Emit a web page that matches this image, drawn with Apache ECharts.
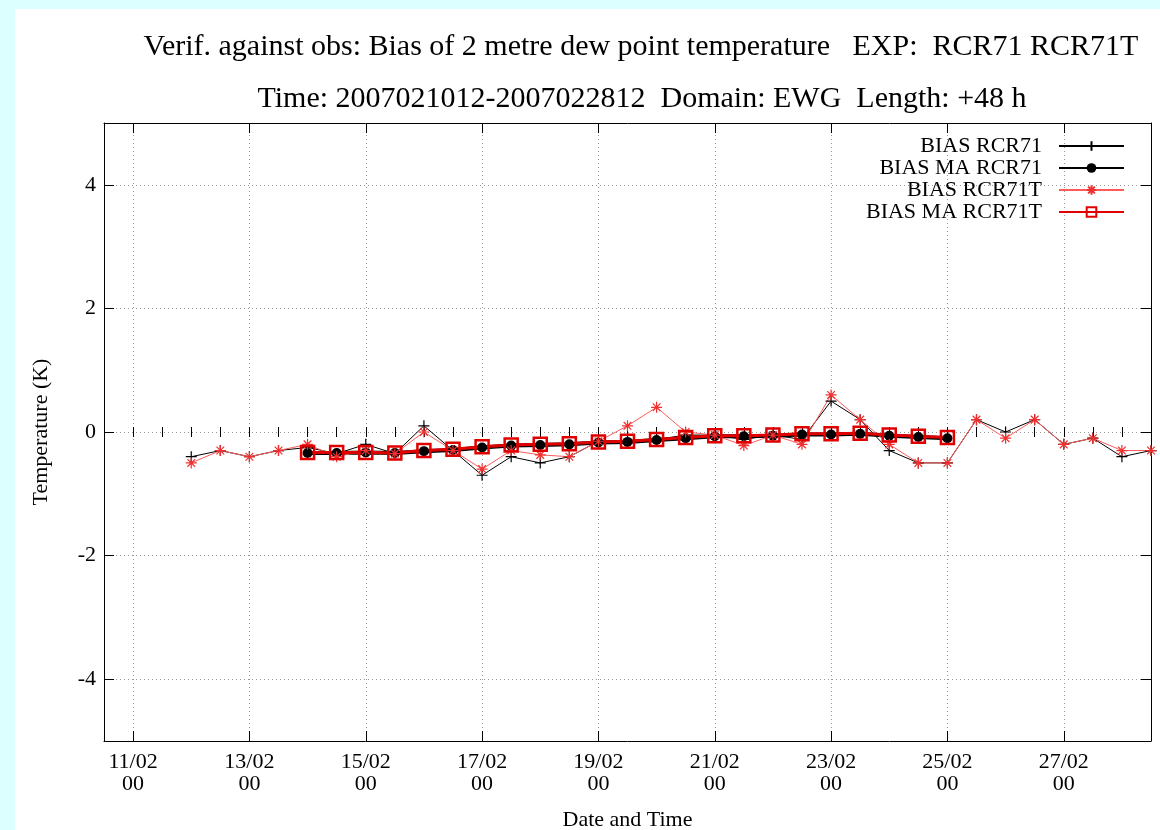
<!DOCTYPE html>
<html><head><meta charset="utf-8">
<script src="https://cdn.jsdelivr.net/npm/echarts@6/dist/echarts.min.js"></script>
<style>
html,body{margin:0;padding:0;background:#dcffff;width:1160px;height:830px;overflow:hidden}
#main{position:absolute;left:15px;top:9px;width:1145px;height:821px;background:#fff}
</style></head><body><div id="main"></div>
<script>
// ---- data ----
const titleLine1 = 'Verif. against obs: Bias of 2 metre dew point temperature   EXP:  RCR71 RCR71T';
const titleLine2 = 'Time: 2007021012-2007022812  Domain: EWG  Length: +48 h';
const axisStart = '2007-02-10 12';
const axisEnd = '2007-02-28 12';
const majorTicks = ['2007-02-11 00','2007-02-13 00','2007-02-15 00','2007-02-17 00','2007-02-19 00',
  '2007-02-21 00','2007-02-23 00','2007-02-25 00','2007-02-27 00'];
const yTicks = [-4, -2, 0, 2, 4];

const biasTimes = ['2007-02-12 00','2007-02-12 12','2007-02-13 00','2007-02-13 12','2007-02-14 00','2007-02-14 12',
  '2007-02-15 00','2007-02-15 12','2007-02-16 00','2007-02-16 12','2007-02-17 00','2007-02-17 12',
  '2007-02-18 00','2007-02-18 12','2007-02-19 00','2007-02-19 12','2007-02-20 00','2007-02-20 12',
  '2007-02-21 00','2007-02-21 12','2007-02-22 00','2007-02-22 12','2007-02-23 00','2007-02-23 12',
  '2007-02-24 00','2007-02-24 12','2007-02-25 00','2007-02-25 12','2007-02-26 00','2007-02-26 12',
  '2007-02-27 00','2007-02-27 12','2007-02-28 00','2007-02-28 12'];
const biasRCR71 = [-0.4,-0.3,-0.4,-0.3,-0.25,-0.35,-0.2,-0.35,0.1,-0.3,-0.7,-0.4,-0.5,-0.4,-0.15,-0.15,-0.12,-0.05,
  -0.05,-0.12,-0.05,-0.12,0.5,0.2,-0.3,-0.5,-0.5,0.2,0.0,0.2,-0.2,-0.1,-0.4,-0.3];
const biasRCR71T = [-0.5,-0.3,-0.4,-0.3,-0.2,-0.4,-0.3,-0.35,0.0,-0.3,-0.6,-0.3,-0.37,-0.4,-0.15,0.1,0.4,0.0,
  -0.05,-0.22,-0.05,-0.2,0.6,0.2,-0.2,-0.5,-0.5,0.2,-0.1,0.2,-0.2,-0.1,-0.3,-0.3];

const maTimes = ['2007-02-14 00','2007-02-14 12','2007-02-15 00','2007-02-15 12','2007-02-16 00','2007-02-16 12',
  '2007-02-17 00','2007-02-17 12','2007-02-18 00','2007-02-18 12','2007-02-19 00','2007-02-19 12',
  '2007-02-20 00','2007-02-20 12','2007-02-21 00','2007-02-21 12','2007-02-22 00','2007-02-22 12',
  '2007-02-23 00','2007-02-23 12','2007-02-24 00','2007-02-24 12','2007-02-25 00'];
const maRCR71 = [-0.34,-0.34,-0.33,-0.34,-0.31,-0.29,-0.25,-0.22,-0.21,-0.2,-0.17,-0.16,-0.13,-0.1,-0.07,-0.07,
  -0.06,-0.04,-0.04,-0.03,-0.06,-0.08,-0.1];
const maRCR71T = [-0.33,-0.33,-0.33,-0.34,-0.3,-0.28,-0.24,-0.21,-0.2,-0.19,-0.16,-0.15,-0.12,-0.09,-0.06,-0.06,
  -0.05,-0.03,-0.03,-0.02,-0.05,-0.07,-0.09];

// ---- helpers ----
function ts(s){ const p = s.split(' '); const d = p[0].split('-').map(Number); return Date.UTC(d[0], d[1]-1, d[2], Number(p[1])); }
function pairs(times, vals){ return times.map((t,i)=>[ts(t), vals[i]]); }
const xMin = ts(axisStart), xMax = ts(axisEnd);
const majorTs = majorTicks.map(ts);
const minorTs = [];
for (let t = xMin; t <= xMax; t += 12*3600*1000) minorTs.push(t);
function pad(n){ return (n<10?'0':'')+n; }
function fmtDate(v){ const d = new Date(v); return pad(d.getUTCDate())+'/'+pad(d.getUTCMonth()+1)+'\n'+pad(d.getUTCHours()); }

const FONT = "'Liberation Serif','DejaVu Serif',serif";
const plusSym = 'path://M5,0L5,10M0,5L10,5';
const starSym = 'path://M5,0L5,10M0,5L10,5M1.5,1.5L8.5,8.5M1.5,8.5L8.5,1.5';
const squareSym = 'path://M0,0L10,0L10,10L0,10Z';
const gridLine = {show:true, lineStyle:{color:'#999', type:[1,3], width:1}};

const baseX = {type:'value', min:xMin, max:xMax, scale:true, splitLine:{show:false}, axisLabel:{show:false},
  axisLine:{show:false}, axisPointer:{show:false}};
const xAxes = [
  Object.assign({}, baseX, {position:'bottom',
    axisLine:{show:true, onZero:false, lineStyle:{color:'#000', width:1}},
    axisTick:{show:true, inside:true, length:10, customValues:majorTs, lineStyle:{color:'#000'}},
    axisLabel:{show:true, customValues:majorTs, formatter:fmtDate, color:'#000', fontFamily:FONT, fontSize:22, lineHeight:22, margin:10},
    splitLine:gridLine,
    name:'Date and Time', nameLocation:'middle', nameGap:68, nameTextStyle:{color:'#000', fontFamily:FONT, fontSize:22}}),
  Object.assign({}, baseX, {position:'bottom',
    axisTick:{show:true, inside:true, length:5, customValues:minorTs, lineStyle:{color:'#000'}}}),
  Object.assign({}, baseX, {position:'top',
    axisLine:{show:true, onZero:false, lineStyle:{color:'#000', width:1}},
    axisTick:{show:true, inside:true, length:10, customValues:majorTs, lineStyle:{color:'#000'}}}),
  Object.assign({}, baseX, {position:'top',
    axisTick:{show:true, inside:true, length:5, customValues:minorTs, lineStyle:{color:'#000'}}})
];
const yAxes = [
  {type:'value', position:'left', min:-5, max:5,
    axisLine:{show:true, onZero:false, lineStyle:{color:'#000', width:1}},
    axisTick:{show:true, inside:true, length:10, customValues:yTicks, lineStyle:{color:'#000'}},
    axisLabel:{customValues:yTicks, color:'#000', fontFamily:FONT, fontSize:22, margin:8},
    splitLine:gridLine,
    name:'Temperature (K)', nameLocation:'middle', nameRotate:90, nameGap:52,
    nameTextStyle:{color:'#000', fontFamily:FONT, fontSize:22}},
  {type:'value', position:'right', min:-5, max:5,
    axisLine:{show:true, onZero:false, lineStyle:{color:'#000', width:1}},
    axisTick:{show:true, inside:true, length:10, customValues:yTicks, lineStyle:{color:'#000'}},
    axisLabel:{show:false}, splitLine:{show:false}}
];

const chart = echarts.init(document.getElementById('main'), null, {renderer:'canvas'});
chart.setOption({
  backgroundColor:'#fff',
  animation:false,
  graphic:[
    {type:'text', x:626, y:38, style:{text:titleLine1, font:"30px "+FONT, fill:'#000', textAlign:'center', textVerticalAlign:'middle'}},
    {type:'text', x:627, y:90, style:{text:titleLine2, font:"30px "+FONT, fill:'#000', textAlign:'center', textVerticalAlign:'middle'}}
  ],
  grid:{left:89, top:114, width:1047, height:618, containLabel:false, outerBoundsMode:'none'},
  legend:{orient:'vertical', right:35, top:126, align:'right', itemWidth:65, itemHeight:12, itemGap:0, padding:0,
    textStyle:{fontFamily:FONT, fontSize:22, color:'#000', padding:[0,12,0,0]},
    data:['BIAS RCR71','BIAS MA RCR71','BIAS RCR71T','BIAS MA RCR71T']},
  xAxis:xAxes,
  yAxis:yAxes,
  series:[
    {name:'BIAS RCR71', type:'line', data:pairs(biasTimes, biasRCR71), symbol:plusSym, symbolSize:11,
      lineStyle:{color:'#000', width:1}, itemStyle:{color:'none', borderColor:'#000', borderWidth:1.2}},
    {name:'BIAS MA RCR71', type:'line', data:pairs(maTimes, maRCR71), symbol:'circle', symbolSize:10,
      lineStyle:{color:'#000', width:4}, itemStyle:{color:'#000'}},
    {name:'BIAS RCR71T', type:'line', data:pairs(biasTimes, biasRCR71T), symbol:starSym, symbolSize:11,
      lineStyle:{color:'#ff5a5a', width:1}, itemStyle:{color:'none', borderColor:'#f03030', borderWidth:1.2}},
    {name:'BIAS MA RCR71T', type:'line', data:pairs(maTimes, maRCR71T), symbol:squareSym, symbolSize:13,
      lineStyle:{color:'#e00000', width:3}, itemStyle:{color:'none', borderColor:'#e00000', borderWidth:2.5}}
  ]
});
</script></body></html>
